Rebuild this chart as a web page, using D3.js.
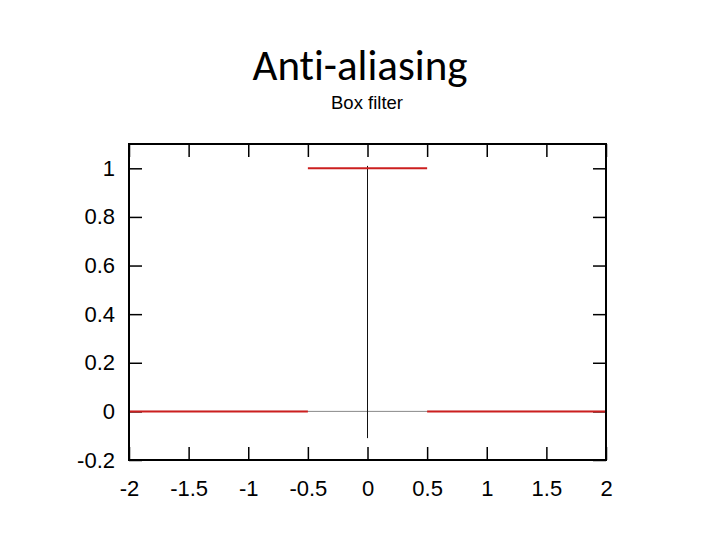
<!DOCTYPE html>
<html><head><meta charset="utf-8">
<script src="https://d3js.org/d3.v7.min.js"></script>
<style>body{margin:0;background:#fff}</style>
</head><body>
<script>
const title = "Anti-aliasing";
const subtitle = "Box filter";
const xTicks = [-2, -1.5, -1, -0.5, 0, 0.5, 1, 1.5, 2];
const yTicks = [-0.2, 0, 0.2, 0.4, 0.6, 0.8, 1];
const xDomain = [-2, 2];
const yDomain = [-0.2, 1.1];
// box filter: step segments
const boxX = [-2, -0.5, -0.5, 0.5, 0.5, 2];
const boxY = [0, 0, 1, 1, 0, 0];
const segments = [[0,1],[2,3],[4,5]];
// zero axes
const vAxisY = [-0.11, 1.01];

const W = 720, H = 540;
const svg = d3.select("body").append("svg").attr("width", W).attr("height", H);
const x = d3.scaleLinear().domain(xDomain).range([129, 606]);
const y = d3.scaleLinear().domain(yDomain).range([460, 144]);

svg.append("text").attr("x", 360).attr("y", 80).attr("text-anchor", "middle")
  .style("font-family", "Carlito, Lato, 'Open Sans', sans-serif").style("font-size", "43px")
  .style("font-variant-ligatures", "none").style("font-feature-settings", "'liga' 0").text(title);
svg.append("text").attr("x", 367).attr("y", 109).attr("text-anchor", "middle")
  .style("font-family", "'Liberation Sans', Arial, sans-serif").style("font-size", "18.5px").text(subtitle);

const g = svg.append("g");
// x zero axis (gray)
g.append("line").attr("x1", x(xDomain[0])).attr("x2", x(xDomain[1])).attr("y1", y(0)).attr("y2", y(0))
  .attr("stroke", "#888").attr("stroke-width", 1);
// y zero axis
g.append("line").attr("x1", x(0)).attr("x2", x(0)).attr("y1", y(vAxisY[0])).attr("y2", y(vAxisY[1]))
  .attr("stroke", "#111").attr("stroke-width", 1);

// ticks via axes (inward)
const tickLen = 13;
const fmt = d => String(d);
const fontStyle = s => s.attr("font-size", null).style("font-family", "'Liberation Sans', Arial, sans-serif").style("font-size", "22px").style("fill", "#000");
const axB = g.append("g").attr("transform", `translate(0,${y(yDomain[0])})`)
  .call(d3.axisBottom(x).tickValues(xTicks).tickSizeInner(-tickLen).tickSizeOuter(0).tickPadding(20).tickFormat(fmt));
const axT = g.append("g").attr("transform", `translate(0,${y(yDomain[1])})`)
  .call(d3.axisTop(x).tickValues(xTicks).tickSizeInner(-tickLen).tickSizeOuter(0).tickFormat(""));
const axL = g.append("g").attr("transform", `translate(${x(xDomain[0])},0)`)
  .call(d3.axisLeft(y).tickValues(yTicks).tickSizeInner(-tickLen).tickSizeOuter(0).tickPadding(14).tickFormat(fmt));
const axR = g.append("g").attr("transform", `translate(${x(xDomain[1])},0)`)
  .call(d3.axisRight(y).tickValues(yTicks).tickSizeInner(-tickLen).tickSizeOuter(0).tickFormat(""));
[axB, axT, axL, axR].forEach(a => {
  a.attr("font-size", null).attr("font-family", null);
  a.select(".domain").remove();
  a.selectAll(".tick line").attr("stroke", "#000").attr("stroke-width", 1.5);
  a.selectAll("text").call(fontStyle);
});

// data line
const red = "#cc1f1f";
segments.forEach(([i, j]) => {
  g.append("line").attr("x1", x(boxX[i])).attr("x2", x(boxX[j]))
    .attr("y1", y(boxY[i])).attr("y2", y(boxY[j]))
    .attr("stroke", red).attr("stroke-width", 2);
});

// frame
g.append("rect").attr("x", x(xDomain[0])).attr("y", y(yDomain[1]))
  .attr("width", x(xDomain[1]) - x(xDomain[0])).attr("height", y(yDomain[0]) - y(yDomain[1]))
  .attr("fill", "none").attr("stroke", "#000").attr("stroke-width", 2);
</script>
</body></html>
